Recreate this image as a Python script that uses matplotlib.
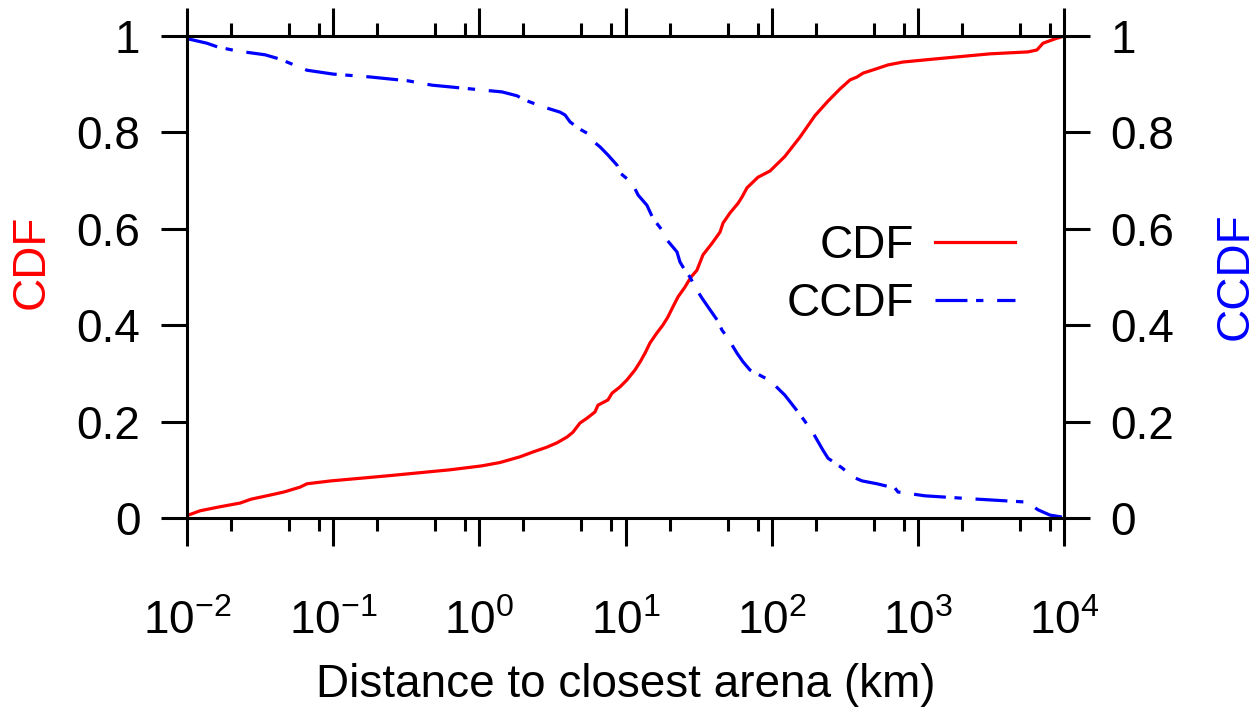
import matplotlib
matplotlib.use("Agg")
import matplotlib.pyplot as plt
from matplotlib.ticker import FixedLocator, NullFormatter

plt.rcParams['font.family'] = ['Liberation Sans', 'DejaVu Sans']
plt.rcParams['mathtext.fontset'] = 'custom'
plt.rcParams['mathtext.rm'] = 'Liberation Sans'
plt.rcParams['mathtext.it'] = 'Liberation Sans:italic'
plt.rcParams['mathtext.bf'] = 'Liberation Sans:bold'

# ---- data ----
cdf_dist = [0.0100, 0.0102, 0.0123, 0.0166, 0.0231, 0.0274, 0.0376, 0.0461, 0.0593,
            0.0662, 0.0966, 0.148, 0.245, 0.393, 0.630, 1.03, 1.38, 1.90, 2.33, 2.90,
            3.40, 3.98, 4.37, 4.88, 5.45, 6.18, 6.48, 7.59, 8.09, 9.17, 10.2, 11.6,
            12.6, 13.6, 14.7, 16.4, 18.0, 19.5, 21.1, 22.9, 25.5, 26.8, 28.1, 30.8,
            33.9, 39.1, 44.3, 46.5, 51.9, 58.9, 62.7, 67.8, 74.5, 80.6, 97.5, 123,
            156, 198, 243, 293, 344, 384, 422, 509, 625, 791, 1270, 3120, 5670, 6530,
            7180, 8670, 10000]
cdf_vals = [0.003, 0.006, 0.015, 0.023, 0.031, 0.039, 0.048, 0.054, 0.064,
            0.071, 0.077, 0.082, 0.088, 0.094, 0.100, 0.108, 0.115, 0.127, 0.137, 0.147,
            0.156, 0.168, 0.178, 0.197, 0.207, 0.220, 0.234, 0.245, 0.259, 0.272, 0.286, 0.307,
            0.324, 0.342, 0.363, 0.384, 0.400, 0.417, 0.438, 0.459, 0.479, 0.490, 0.500, 0.514,
            0.546, 0.570, 0.593, 0.612, 0.633, 0.653, 0.666, 0.685, 0.697, 0.707, 0.720, 0.750,
            0.790, 0.835, 0.865, 0.890, 0.909, 0.915, 0.923, 0.931, 0.940, 0.946, 0.952, 0.963,
            0.967, 0.971, 0.985, 0.994, 1.000]

ccdf_dist = [0.0100, 0.0102, 0.0137, 0.0163, 0.0220, 0.0342, 0.0433, 0.0483, 0.0662,
             0.0997, 0.179, 0.325, 0.475, 0.891, 1.43, 1.81, 2.05, 2.73, 3.57, 3.86,
             4.17, 4.73, 5.71, 5.99, 6.69, 7.59, 8.75, 9.17, 11.1, 12.2, 14.0, 15.4,
             17.8, 19.2, 22.5, 23.6, 25.5, 27.6, 29.9, 33.4, 36.7, 42.3, 45.7, 50.2,
             57.9, 63.7, 71.1, 97.5, 123, 156, 189, 224, 243, 303, 360, 415, 526, 698,
             731, 1120, 2580, 5590, 6640, 8020, 9680]
ccdf_vals = [0.997, 0.994, 0.985, 0.977, 0.969, 0.961, 0.952, 0.946, 0.929,
             0.921, 0.915, 0.907, 0.898, 0.890, 0.884, 0.876, 0.867, 0.853, 0.842, 0.836,
             0.822, 0.809, 0.795, 0.782, 0.770, 0.753, 0.732, 0.716, 0.695, 0.670, 0.649, 0.622,
             0.597, 0.577, 0.552, 0.531, 0.514, 0.500, 0.479, 0.456, 0.438, 0.411, 0.390, 0.373,
             0.342, 0.324, 0.307, 0.285, 0.255, 0.215, 0.180, 0.141, 0.124, 0.104, 0.085, 0.077,
             0.071, 0.062, 0.054, 0.046, 0.039, 0.033, 0.017, 0.006, 0.002]

x_major = [1e-2, 1e-1, 1e0, 1e1, 1e2, 1e3, 1e4]
x_major_labels = [r'$10^{-2}$', r'$10^{-1}$', r'$10^{0}$', r'$10^{1}$',
                  r'$10^{2}$', r'$10^{3}$', r'$10^{4}$']
minor_mults = [2, 5, 8]
y_ticks = [0, 0.2, 0.4, 0.6, 0.8, 1]
y_tick_labels = ['0', '0.2', '0.4', '0.6', '0.8', '1']

FS = 33
W, H = 1257, 708
fig = plt.figure(figsize=(W / 100, H / 100), dpi=100)
ax = fig.add_axes([187 / W, 1 - 518 / H, (1064 - 187) / W, (518 - 36) / H])

ax.plot(cdf_dist, cdf_vals, color='#ff0000', lw=2.3, label='CDF')
ax.plot(ccdf_dist, ccdf_vals, color='#0000ff', lw=2.3,
        linestyle=(0, (10, 2.7, 2.3, 4.3)), label='CCDF')

ax.set_xscale('log')
ax.set_xlim(1e-2, 1e4)
ax.set_ylim(0, 1)

ax.xaxis.set_major_locator(FixedLocator(x_major))
ax.set_xticklabels(x_major_labels)
minors = [m * d for d in x_major[:-1] for m in minor_mults]
ax.xaxis.set_minor_locator(FixedLocator(minors))
ax.xaxis.set_minor_formatter(NullFormatter())
ax.set_yticks(y_ticks)
ax.set_yticklabels(y_tick_labels)

for s in ax.spines.values():
    s.set_linewidth(2.2)

ax.tick_params(axis='x', which='major', direction='out', length=20, width=2.2,
               top=True, bottom=True, labelsize=FS, pad=39)
ax.tick_params(axis='x', which='minor', direction='out', length=9.5, width=2.2,
               top=True, bottom=True)
ax.tick_params(axis='y', which='major', direction='out', length=18.5, width=2.2,
               left=True, right=True, labelleft=True, labelright=True,
               labelsize=FS, pad=15)

ax.set_xlabel('Distance to closest arena (km)', fontsize=FS, labelpad=14)

fig.text(32 / W, 1 - 262 / H, 'CDF', color='#ff0000', fontsize=FS, rotation=90,
         ha='center', va='center')
fig.text(1236 / W, 1 - 276 / H, 'CCDF', color='#0000ff', fontsize=FS, rotation=90,
         ha='center', va='center')

leg = ax.legend(loc='center right', bbox_to_anchor=(1015 / W, 1 - 275 / H),
                bbox_transform=fig.transFigure, frameon=False, fontsize=FS,
                markerfirst=False, handlelength=1.75, handletextpad=0.45,
                labelspacing=0.3, borderpad=0, borderaxespad=0)

fig.savefig('out.png', dpi=100)
